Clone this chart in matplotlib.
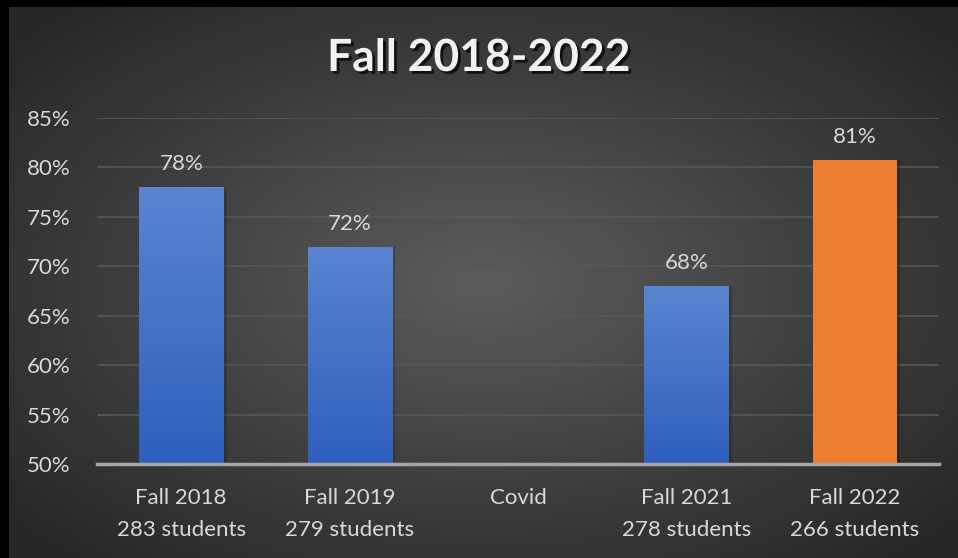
import numpy as np
import matplotlib.pyplot as plt
import matplotlib.patheffects as pe
from matplotlib.ticker import PercentFormatter

# data
categories = ['Fall 2018\n283 students', 'Fall 2019\n279 students', 'Covid',
              'Fall 2021\n278 students', 'Fall 2022\n266 students']
values = [0.78, 0.72, np.nan, 0.68, 0.808]
highlight = [False, False, False, False, True]

plt.rcParams['font.family'] = ['Lato', 'DejaVu Sans']
txt = '#d9d9d9'

fig = plt.figure(figsize=(9.58, 5.58), dpi=100, facecolor='black')

# radial gradient background
bg = fig.add_axes([9 / 958, 0, 949 / 958, 551 / 558])
yy, xx = np.mgrid[-1:1:300j, -1:1:500j]
r = np.sqrt(xx ** 2 + yy ** 2)
r = np.clip(r / 1.35, 0, 1)
c_in = np.array([0x5c, 0x5c, 0x5c]) / 255
c_out = np.array([0x26, 0x26, 0x26]) / 255
img = c_in[None, None, :] * (1 - r[..., None]) + c_out[None, None, :] * r[..., None]
bg.imshow(img, aspect='auto', extent=(0, 1, 0, 1), origin='lower')
bg.axis('off')

ax = fig.add_axes([97 / 958, 94 / 558, 842 / 958, 346 / 558])
ax.patch.set_alpha(0)
x = np.arange(len(categories))

ax.set_xlim(-0.5, len(categories) - 0.5)
ax.set_ylim(0.5, 0.85)
ax.set_yticks(np.arange(0.5, 0.851, 0.05))
ax.yaxis.set_major_formatter(PercentFormatter(1, decimals=0))
ax.grid(axis='y', color='#575757', linewidth=1.2)
ax.set_axisbelow(True)

blue_grad = np.array([[0x2e, 0x5f, 0xbd], [0x5b, 0x84, 0xd0]]) / 255
for xi, v, hl in zip(x, values, highlight):
    if np.isnan(v):
        continue
    # soft drop shadow
    ax.bar(xi + 0.02, v - 0.5, width=0.5, bottom=0.5, color='black',
           alpha=0.18, zorder=2)
    if hl:
        b = ax.bar(xi, v - 0.5, width=0.5, bottom=0.5, color='#ed7d31', zorder=3)
    else:
        b = ax.bar(xi, v - 0.5, width=0.5, bottom=0.5, color='#4472c4', zorder=3)
        t = np.linspace(0, 1, 100)[:, None]
        g = blue_grad[0] * (1 - t[..., None]) + blue_grad[1] * t[..., None]
        im = ax.imshow(g, aspect='auto', origin='lower',
                       extent=(xi - 0.25, xi + 0.25, 0.5, v), zorder=4)
        im.set_clip_path(b.patches[0])
    ax.text(xi, v + 0.013, '{:.0%}'.format(v), ha='center', va='bottom',
            color=txt, fontsize=16)

ax.set_xticks(x)
ax.set_xticklabels(categories, fontsize=16, color=txt, linespacing=1.8)
ax.tick_params(axis='y', labelsize=16, labelcolor=txt, length=0, pad=19)
ax.tick_params(axis='x', length=0, pad=17)
for s in ['top', 'right', 'left']:
    ax.spines[s].set_visible(False)
ax.spines['bottom'].set_color('#a6a6a6')
ax.spines['bottom'].set_linewidth(2.5)
ax.spines['bottom'].set_zorder(5)

fig.text(0.5, 1 - 58 / 558, 'Fall 2018-2022', ha='center', va='center',
         fontsize=32, fontweight='bold', color='#f2f2f2',
         path_effects=[pe.withSimplePatchShadow(offset=(2, -2),
                                                shadow_rgbFace='black', alpha=0.7)])

fig.savefig('out.png', dpi=100, facecolor='black')
